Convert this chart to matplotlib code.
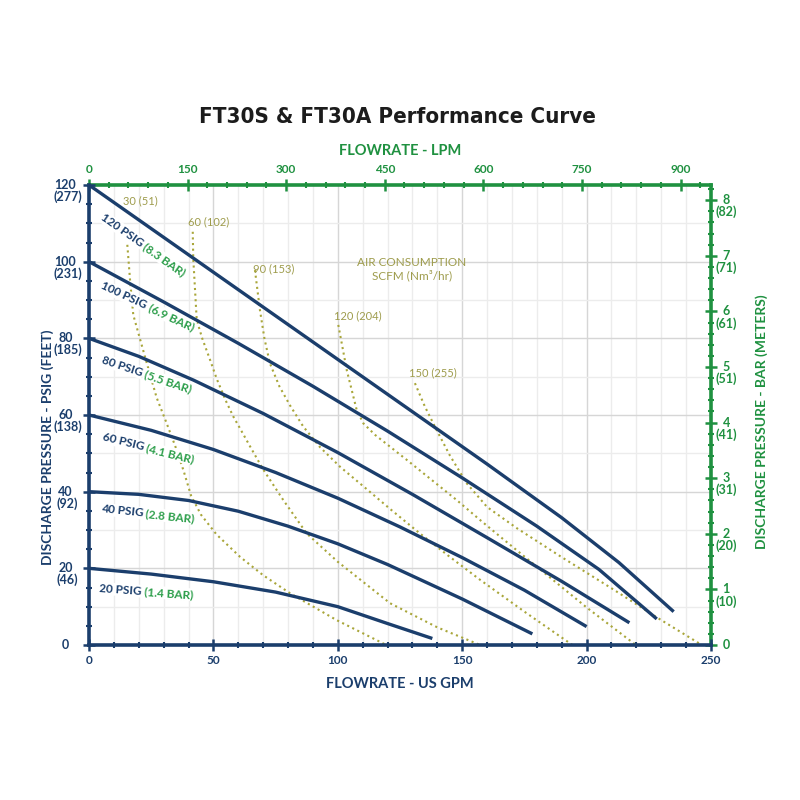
import matplotlib
matplotlib.use('Agg')
import matplotlib.pyplot as plt
import numpy as np
from matplotlib.ticker import MultipleLocator

# ---------------- data ----------------
# pressure (performance) curves: flow in US GPM, discharge pressure in PSIG
gpm_120 = [0, 40, 80, 120, 160, 190, 213, 235]
psi_120 = [120, 101.8, 83.6, 65.4, 47.2, 33.2, 21.5, 8.7]
gpm_100 = [0, 30, 60, 90, 120, 150, 180, 205, 228.2]
psi_100 = [100, 89.5, 78.7, 67.5, 55.8, 43.6, 31.0, 19.7, 6.8]
gpm_80 = [0, 20, 42, 70, 100, 130, 160, 190, 217.2]
psi_80 = [80, 75.3, 69.1, 60.4, 50.2, 39.3, 28.0, 16.6, 5.8]
gpm_60 = [0, 25, 50, 75, 100, 125, 150, 175, 200]
psi_60 = [60, 56, 51, 45, 38.3, 30.8, 22.8, 14.3, 4.8]
gpm_40 = [0, 20, 40, 60, 80, 100, 120, 150, 178.2]
psi_40 = [40, 39.3, 37.7, 34.9, 31.0, 26.4, 21.0, 12.0, 2.9]
gpm_20 = [0, 25, 50, 75, 100, 120, 138]
psi_20 = [20, 18.5, 16.5, 13.8, 10.0, 5.6, 1.7]

pressure_names = ["120 PSIG", "100 PSIG", "80 PSIG", "60 PSIG", "40 PSIG", "20 PSIG"]
pressure_bars = ["(8.3 BAR)", "(6.9 BAR)", "(5.5 BAR)", "(4.1 BAR)", "(2.8 BAR)", "(1.4 BAR)"]

# air consumption curves (SCFM)
gpm_a30 = [15.4, 16.5, 17.8, 22.5, 27.2, 31, 34.6, 38, 41, 45, 51.3, 60.7, 70, 80.8, 99.5, 119.5]
psi_a30 = [104.4, 95.2, 86.1, 75.2, 64.5, 58.2, 52, 45.5, 39, 34, 28.8, 23.0, 18.2, 13.5, 6.5, 0]
gpm_a60 = [41.7, 41.9, 43.3, 45.5, 48.6, 51.3, 55, 58, 60.7, 65, 70, 78.1, 87.5, 100, 121, 140, 157.2]
psi_a60 = [107.8, 100.9, 84.8, 80, 74.5, 69.5, 63.7, 59.6, 56.5, 51.5, 45.8, 37.8, 29.1, 21.7, 10.9, 4.6, 0]
gpm_a90 = [66.7, 68.7, 70.5, 72.7, 76.5, 80.8, 86.1, 93, 100.9, 111, 121, 133, 145, 157.2, 175, 194.3]
psi_a90 = [97.8, 87.4, 80, 73.5, 67.5, 62.5, 57, 51.5, 46.5, 41, 35.5, 29.1, 23, 17, 8.7, 0]
gpm_a120 = [100.2, 103.6, 107.6, 110.3, 115, 127.7, 147.8, 157.2, 165.2, 175.9, 200, 219.8]
psi_a120 = [83.5, 71.7, 61.3, 57.8, 54.8, 48.3, 37.8, 32.6, 28.3, 22.6, 9.8, 0]
gpm_a150 = [131, 135, 139.7, 145, 151.8, 160, 171.9, 189.3, 210, 228, 246.3]
psi_a150 = [68.3, 62.2, 56.1, 49.5, 42.2, 36, 30.5, 23.2, 14.8, 7.3, 0]

air_labels = ["30 (51)", "60 (102)", "90 (153)", "120 (204)", "150 (255)"]

# axis tick labels
gpm_ticks = [0, 50, 100, 150, 200, 250]
psi_ticks = [0, 20, 40, 60, 80, 100, 120]
feet_labels = ["", "(46)", "(92)", "(138)", "(185)", "(231)", "(277)"]
lpm_ticks = [0, 150, 300, 450, 600, 750, 900]
bar_ticks = [0, 1, 2, 3, 4, 5, 6, 7, 8]
meter_labels = ["", "(10)", "(20)", "(31)", "(41)", "(51)", "(61)", "(71)", "(82)"]

# ---------------- style ----------------
NAVY = '#1b3e6c'
GREEN = '#1f9140'
LGREEN = '#2c9e4a'
OLIVE = '#a9a63a'
OLIVE_TXT = '#9e9c4c'
FONT = ['Lato', 'DejaVu Sans']
plt.rcParams['font.family'] = FONT

GAL2L = 3.78541
PSI_PER_BAR = 14.5038

fig = plt.figure(figsize=(8, 8), dpi=100)
ax = fig.add_axes([89 / 800, 155 / 800, 622 / 800, 460 / 800])
ax.set_xlim(0, 250)
ax.set_ylim(0, 120)

# grid
for g in np.arange(10, 250, 10):
    ax.axvline(g, color='#d6d6d6' if g % 50 == 0 else '#ececec', lw=1.0, zorder=0)
for p in np.arange(10, 120, 10):
    ax.axhline(p, color='#d6d6d6' if p % 20 == 0 else '#ececec', lw=1.0, zorder=0)

# air consumption curves
dot = (0, (1, 1.7))
for gx, py in [(gpm_a30, psi_a30), (gpm_a60, psi_a60), (gpm_a90, psi_a90),
               (gpm_a120, psi_a120), (gpm_a150, psi_a150)]:
    ax.plot(gx, py, color=OLIVE, lw=1.5, linestyle=dot, zorder=2)

# pressure curves
for gx, py in [(gpm_120, psi_120), (gpm_100, psi_100), (gpm_80, psi_80),
               (gpm_60, psi_60), (gpm_40, psi_40), (gpm_20, psi_20)]:
    ax.plot(gx, py, color=NAVY, lw=2.4, solid_capstyle='butt', solid_joinstyle='round', zorder=4)

# spines
for s in ['top', 'right']:
    ax.spines[s].set_visible(False)
for s in ['left', 'bottom']:
    ax.spines[s].set_color(NAVY)
    ax.spines[s].set_linewidth(2.6)
    ax.spines[s].set_zorder(5)

# bottom axis
ax.set_xticks(gpm_ticks, labels=[str(t) for t in gpm_ticks], fontsize=8.5,
              fontweight='bold', color=NAVY)
ax.xaxis.set_minor_locator(MultipleLocator(10))
ax.tick_params(axis='x', which='major', direction='inout', length=8, width=1.8,
               color=NAVY, pad=3)
ax.tick_params(axis='x', which='minor', direction='inout', length=5, width=1.5, color=NAVY)

# left axis (labels drawn as annotations to stack psi / feet)
ax.set_yticks(psi_ticks, labels=[''] * len(psi_ticks))
ax.yaxis.set_minor_locator(MultipleLocator(5))
ax.tick_params(axis='y', which='major', direction='inout', length=8, width=1.8, color=NAVY)
ax.tick_params(axis='y', which='minor', direction='inout', length=5, width=1.5, color=NAVY)
for p, ft in zip(psi_ticks, feet_labels):
    ax.annotate(str(p), xy=(0, p), xycoords=('axes fraction', 'data'),
                xytext=(-17, 0), textcoords='offset points', ha='center', va='center',
                fontsize=9, fontweight='bold', color=NAVY, annotation_clip=False)
    if ft:
        ax.annotate(ft, xy=(0, p), xycoords=('axes fraction', 'data'),
                    xytext=(-15.5, -8.5), textcoords='offset points', ha='center', va='center',
                    fontsize=9, fontweight='bold', color=NAVY, annotation_clip=False)

# top axis (LPM)
top = ax.secondary_xaxis('top', functions=(lambda g: g * GAL2L, lambda l: l / GAL2L))
top.set_xticks(lpm_ticks, labels=[str(t) for t in lpm_ticks], fontsize=8.5,
               fontweight='bold', color=GREEN)
top.xaxis.set_minor_locator(MultipleLocator(30))
top.tick_params(axis='x', which='major', direction='inout', length=8, width=1.8, color=GREEN, pad=3)
top.tick_params(axis='x', which='minor', direction='inout', length=5, width=1.5, color=GREEN)
top.spines['top'].set_color(GREEN)
top.spines['top'].set_linewidth(2.6)
top.set_xlabel('FLOWRATE - LPM', fontsize=10.5, fontweight='bold', color=GREEN, labelpad=7)

# right axis (BAR)
right = ax.secondary_yaxis('right', functions=(lambda p: p / PSI_PER_BAR, lambda b: b * PSI_PER_BAR))
right.set_yticks(bar_ticks, labels=[''] * len(bar_ticks))
right.yaxis.set_minor_locator(MultipleLocator(0.2))
right.tick_params(axis='y', which='major', direction='inout', length=8, width=1.8, color=GREEN)
right.tick_params(axis='y', which='minor', direction='inout', length=5, width=1.5, color=GREEN)
right.spines['right'].set_color(GREEN)
right.spines['right'].set_linewidth(2.6)
for b, m in zip(bar_ticks, meter_labels):
    ax.annotate(str(b), xy=(1, b * PSI_PER_BAR), xycoords=('axes fraction', 'data'),
                xytext=(11, 0), textcoords='offset points', ha='center', va='center',
                fontsize=9, fontweight='bold', color=GREEN, annotation_clip=False)
    if m:
        ax.annotate(m, xy=(1, b * PSI_PER_BAR), xycoords=('axes fraction', 'data'),
                    xytext=(11, -8.5), textcoords='offset points', ha='center', va='center',
                    fontsize=9, fontweight='bold', color=GREEN, annotation_clip=False)

# axis titles
ax.set_xlabel('FLOWRATE - US GPM', fontsize=10.5, fontweight='bold', color=NAVY, labelpad=8)
fig.text(48 / 800, 1 - 447 / 800, 'DISCHARGE PRESSURE - PSIG (FEET)', rotation=90,
         ha='center', va='center', fontsize=10, fontweight='bold', color=NAVY)
fig.text(762 / 800, 1 - 422 / 800, 'DISCHARGE PRESSURE - BAR (METERS)', rotation=90,
         ha='center', va='center', fontsize=10, fontweight='bold', color=GREEN)

# title
fig.text(397 / 800, 1 - 117 / 800, 'FT30S & FT30A Performance Curve',
         ha='center', va='center', fontsize=16, fontweight='bold', color='#1c1c1c',
         family=['DejaVu Sans'], fontstretch='condensed')

# air consumption labels
air_pos = [(20.7, 115.9), (48, 110.3), (74.1, 98.1), (108.2, 85.9), (138.4, 71.1)]
for (x, y), s in zip(air_pos, air_labels):
    ax.text(x, y, s, ha='center', va='center', fontsize=8, color=OLIVE_TXT, zorder=6)
ax.text(129.7, 98.0, 'AIR CONSUMPTION\nSCFM (Nm\u00b3/hr)', ha='center', va='center',
        fontsize=8.5, color=OLIVE_TXT, linespacing=1.2, zorder=6)

# pressure curve labels (two colours, rotated)
fig.canvas.draw()
renderer = fig.canvas.get_renderer()
label_pos = [(5.1, 112.0, -35), (5.1, 93.9, -25), (5.1, 74.5, -18.5),
             (5.5, 54.3, -14), (4.8, 35.5, -6), (4.1, 14.8, -4)]
LFS = 8.5
lbl_kw = dict(fontsize=LFS, fontweight='bold', rotation_mode='anchor', ha='left', va='center',
              zorder=6, bbox=dict(facecolor='white', edgecolor='none', pad=0.6))
for (x, y, ang), s1, s2 in zip(label_pos, pressure_names, pressure_bars):
    tmp = ax.text(0, 0, s1 + ' ', fontsize=LFS, fontweight='bold')
    w = tmp.get_window_extent(renderer=renderer).width
    tmp.remove()
    ax.text(x, y, s1, rotation=ang, color=NAVY, **lbl_kw)
    p0 = ax.transData.transform((x, y))
    a = np.deg2rad(ang)
    p1 = p0 + w * np.array([np.cos(a), np.sin(a)])
    x2, y2 = ax.transData.inverted().transform(p1)
    ax.text(x2, y2, s2, rotation=ang, color=LGREEN, **lbl_kw)

fig.savefig('out.png', dpi=100, facecolor='white')
